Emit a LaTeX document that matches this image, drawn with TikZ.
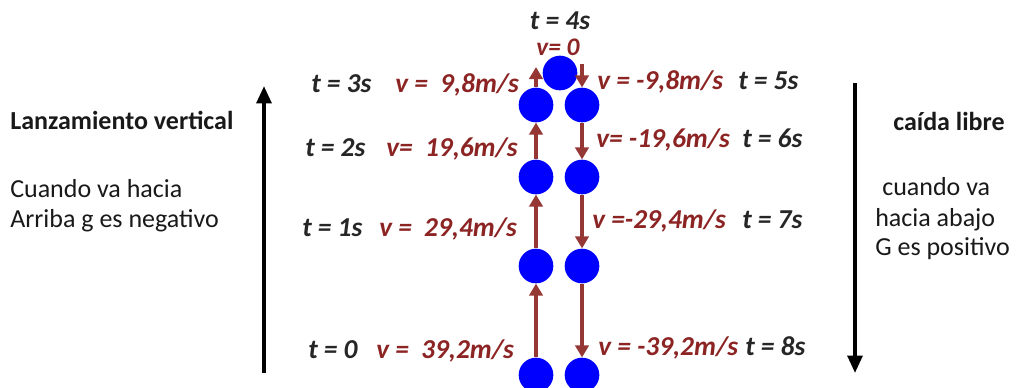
\documentclass[tikz,border=0pt]{standalone}
\usepackage{fontspec}
\setmainfont{Carlito}
\usetikzlibrary{arrows.meta, positioning}
\definecolor{velred}{HTML}{953735}
\definecolor{veltext}{HTML}{8C2424}
\definecolor{ballblue}{HTML}{0000FF}
\tikzset{
  ball/.style={circle, fill=ballblue, inner sep=0pt, minimum size=26pt},
  vel/.style={-{Triangle[width=10pt,length=9pt]}, line width=3pt, draw=velred},
  bigarrow/.style={-{Triangle[width=11pt,length=13pt]}, line width=2.8pt, draw=black},
  tlabel/.style={font=\fontsize{20.5}{22}\selectfont\bfseries\itshape, text=black!85, inner sep=0pt},
  vlabel/.style={font=\fontsize{20.5}{22}\selectfont\bfseries\itshape, text=veltext, inner sep=0pt},
  note/.style={font=\fontsize{19.5}{22}\selectfont, text=black!90, inner sep=0pt, anchor=base west},
  title/.style={note, font=\fontsize{19.5}{22}\selectfont\bfseries},
}

\begin{document}
\begin{tikzpicture}[x=0.75pt, y=-0.75pt]
  \useasboundingbox (0,0) rectangle (1019,387);

  % balls going up and coming down
  \node[ball] (top) at (560,73)  {};
  \node[ball] (up0) at (536,375) {};
  \node[ball] (up1) at (536,266) {};
  \node[ball] (up2) at (536,177) {};
  \node[ball] (up3) at (536,105) {};
  \node[ball] (dn5) at (582,105) {};
  \node[ball] (dn6) at (582,177) {};
  \node[ball] (dn7) at (582,266) {};
  \node[ball] (dn8) at (582,375) {};

  \foreach \a/\b in {up0/up1, up1/up2, up2/up3, dn5/dn6, dn6/dn7, dn7/dn8}
    \draw[vel] (\a) -- (\b);

  \coordinate (upend)   at (536,67);
  \coordinate (dnstart) at (582,64);
  \draw[vel] (up3) -- (upend);
  \draw[vel] (dnstart) -- (dn5);

  % times and speeds
  \node[tlabel, anchor=base] (t4) at (560,29) {t = 4s};
  \node[vlabel, anchor=base, font=\fontsize{19}{20}\selectfont\bfseries\itshape] (v4) at (558,55) {v= 0};

  \node[tlabel, anchor=base west] (t3) at (311,92)  {t = 3s};
  \node[tlabel, anchor=base west] (t2) at (305,156) {t = 2s};
  \node[tlabel, anchor=base west] (t1) at (302,236) {t = 1s};
  \node[tlabel, anchor=base west] (t0) at (308,358) {t = 0};

  \node[vlabel, anchor=base west] (v3) at (395,92)  {v = \ 9,8m/s};
  \node[vlabel, anchor=base west] (v2) at (386,156) {v= \ 19,6m/s};
  \node[vlabel, anchor=base west] (v1) at (379,236) {v = \ 29,4m/s};
  \node[vlabel, anchor=base west] (v0) at (376,358) {v = \ 39,2m/s};

  \node[vlabel, anchor=base west] (v5) at (597,89)  {v = -9,8m/s};
  \node[vlabel, anchor=base west] (v6) at (596,147) {v= -19,6m/s};
  \node[vlabel, anchor=base west] (v7) at (592,228) {v =-29,4m/s};
  \node[vlabel, anchor=base west] (v8) at (598,355) {v = -39,2m/s};

  \node[tlabel, anchor=base west] (t5) at (738,89)  {t = 5s};
  \node[tlabel, anchor=base west] (t6) at (742,147) {t = 6s};
  \node[tlabel, anchor=base west] (t7) at (742,228) {t = 7s};
  \node[tlabel, anchor=base west] (t8) at (745,355) {t = 8s};

  % direction arrows
  \coordinate (lanbot) at (264,373);
  \coordinate (lantop) at (264,86);
  \coordinate (caitop) at (855,83);
  \coordinate (caibot) at (855,373);
  \draw[bigarrow] (lanbot) -- (lantop);
  \draw[bigarrow] (caitop) -- (caibot);

  % side notes
  \node[title] (lantitle) at (10,129) {Lanzamiento vertical};
  \node[note]  (lanone)   at (10,197) {Cuando va hacia};
  \node[note]  (lantwo)   at (10,227) {Arriba g es negativo};

  \node[title] (caititle) at (893,130) {caída libre};
  \node[note]  (caione)   at (882,195) {cuando va};
  \node[note]  (caitwo)   at (875,226) {hacia abajo};
  \node[note]  (caithree) at (875,255) {G es positivo};
\end{tikzpicture}
\end{document}
